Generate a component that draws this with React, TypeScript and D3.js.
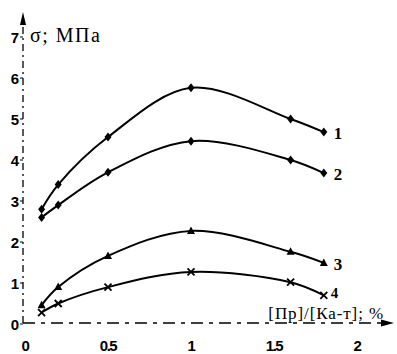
import React from 'react';
import * as d3 from 'd3';

const xValues = [0.1, 0.2, 0.5, 1.0, 1.6, 1.8];
const series1 = [2.8, 3.4, 4.56, 5.76, 5.0, 4.68];
const series2 = [2.6, 2.9, 3.7, 4.46, 4.0, 3.68];
const series3 = [0.46, 0.9, 1.66, 2.27, 1.76, 1.49];
const series4 = [0.28, 0.5, 0.9, 1.27, 1.02, 0.7];
const seriesNames = ['1', '2', '3', '4'];
const yTicks = [0, 1, 2, 3, 4, 5, 6, 7];
const xTicks = [0, 0.5, 1, 1.5, 2];
const xTickLabels = ['0', '0.5', '1', '1.5', '2'];

const W = 397;
const H = 354;

const App: React.FC = () => {
  const x = d3.scaleLinear().domain([0, 2]).range([25, 357]);
  const y = d3.scaleLinear().domain([0, 7]).range([324, 37]);

  const allSeries = [series1, series2, series3, series4];
  const line = d3
    .line<number>()
    .x((_, i) => x(xValues[i]))
    .y(d => y(d))
    .curve(d3.curveCatmullRom.alpha(0.5));

  const marker = (si: number, cx: number, cy: number, key: string) => {
    if (si < 2) {
      return <path key={key} d={`M${cx},${cy - 4.5}L${cx + 3.5},${cy}L${cx},${cy + 4.5}L${cx - 3.5},${cy}Z`} fill="#000" />;
    }
    if (si === 2) {
      return <path key={key} d={`M${cx},${cy - 4.5}L${cx + 4},${cy + 3}L${cx - 4},${cy + 3}Z`} fill="#000" />;
    }
    return (
      <path key={key} d={`M${cx - 3.5},${cy - 3.5}L${cx + 3.5},${cy + 3.5}M${cx + 3.5},${cy - 3.5}L${cx - 3.5},${cy + 3.5}`} stroke="#000" strokeWidth={1.8} />
    );
  };

  const axisX = 23;
  const axisY = 323;
  const tickFont = 'Liberation Sans, Arial, sans-serif';
  const serif = 'Liberation Serif, Times New Roman, serif';

  return (
    <svg width={W} height={H} style={{ position: 'absolute', left: 0, top: 0, background: '#fff' }}>
      {/* y axis */}
      <line x1={axisX} y1={axisY} x2={axisX} y2={20} stroke="#000" strokeWidth={1.3} strokeDasharray="7 4 2 4" />
      <path d={`M${axisX},12L${axisX + 3},25L${axisX - 3},25Z`} fill="#000" />
      {/* x axis */}
      <line x1={axisX} y1={axisY} x2={382} y2={axisY} stroke="#000" strokeWidth={1.3} strokeDasharray="12 6 4 6" />
      <path d={`M394,${axisY}L381,${axisY - 3.5}L381,${axisY + 3.5}Z`} fill="#000" />

      {yTicks.map(t => (
        <g key={`yt${t}`}>
          <text x={19} y={y(t) + 5.5} textAnchor="end" fontFamily={tickFont} fontWeight="bold" fontSize={15}>
            {t}
          </text>
          <line x1={20} x2={23} y1={y(t)} y2={y(t)} stroke="#000" strokeWidth={1} />
        </g>
      ))}
      {xTicks.map((t, i) => (
        <text key={`xt${t}`} x={x(t)} y={351} textAnchor="middle" fontFamily={tickFont} fontWeight="bold" fontSize={15} letterSpacing={-1.5}>
          {xTickLabels[i]}
        </text>
      ))}

      <text x={30} y={42} fontFamily={serif} fontSize={20} letterSpacing={1.5}>
        σ; МПа
      </text>
      <text x={384} y={319} textAnchor="end" fontFamily={serif} fontSize={17} letterSpacing={0.9}>
        [Пр]/[Ка-т]; %
      </text>

      {allSeries.map((s, si) => (
        <g key={`s${si}`}>
          <path d={line(s) || ''} fill="none" stroke="#000" strokeWidth={2} />
          {s.map((v, i) => marker(si, x(xValues[i]), y(v), `m${si}-${i}`))}
          <text
            x={x(xValues[xValues.length - 1]) + (si === 3 ? 7 : 10)}
            y={y(s[s.length - 1]) + (si === 3 ? 3 : 7)}
            fontFamily={serif}
            fontWeight="bold"
            fontSize={si === 3 ? 15 : 17}
          >
            {seriesNames[si]}
          </text>
        </g>
      ))}
    </svg>
  );
};

export default App;
